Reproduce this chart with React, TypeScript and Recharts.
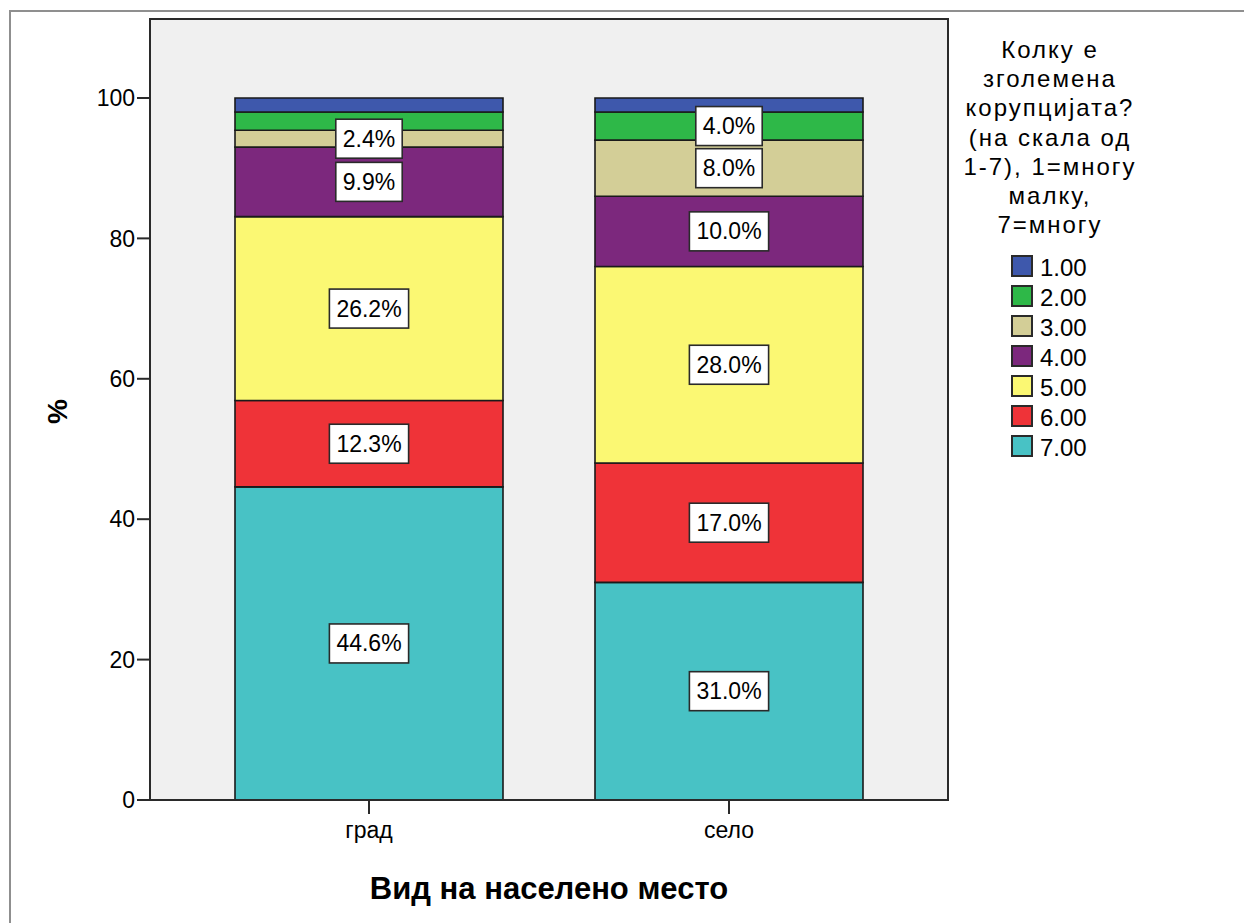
import React from 'react';
import { BarChart, Bar, XAxis, YAxis, CartesianGrid, LabelList, Legend } from 'recharts';

const categories = ['град', 'село'];
const s1 = [2.0, 2.0];
const s2 = [2.6, 4.0];
const s3 = [2.4, 8.0];
const s4 = [9.9, 10.0];
const s5 = [26.2, 28.0];
const s6 = [12.3, 17.0];
const s7 = [44.6, 31.0];
const seriesNames = ['1.00', '2.00', '3.00', '4.00', '5.00', '6.00', '7.00'];
const seriesColors = ['#3E58AC', '#2EB848', '#D3CE97', '#7C287D', '#FBF873', '#EF3338', '#48C2C5'];
const showLabels = [
  [false, false],
  [false, true],
  [true, true],
  [true, true],
  [true, true],
  [true, true],
  [true, true],
];
const yTicks = [0, 20, 40, 60, 80, 100];
const legendTitle = ['Колку е', 'зголемена', 'корупцијата?', '(на скала од', '1-7), 1=многу', 'малку,', '7=многу'];
const xTitle = 'Вид на населено место';
const yTitle = '%';

const seriesValues = [s1, s2, s3, s4, s5, s6, s7];
const keys = ['k1', 'k2', 'k3', 'k4', 'k5', 'k6', 'k7'];

const data = categories.map((c, i) => {
  const row: any = { name: c };
  keys.forEach((k, j) => {
    row[k] = seriesValues[j][i];
  });
  return row;
});

const FONT = "'Liberation Sans', Arial, sans-serif";

const charW = (ch: string) => {
  if (ch === '.') return 0.278;
  if (ch === '%') return 0.889;
  return 0.556;
};

const makeLabel = (show: boolean[]) => (props: any) => {
  const { x, y, width, height, value, index } = props;
  if (!show[index]) return null;
  const text = `${Number(value).toFixed(1)}%`;
  const fs = 23;
  const tw = text.split('').reduce((a, ch) => a + charW(ch) * fs, 0);
  const bw = tw + 14;
  const bh = 39;
  const cx = Number(x) + Number(width) / 2;
  const cy = Number(y) + Number(height) / 2;
  return (
    <g>
      <rect x={cx - bw / 2} y={cy - bh / 2} width={bw} height={bh} fill="#ffffff" stroke="#2a2a2a" strokeWidth={1.6} />
      <text x={cx} y={cy + 8} textAnchor="middle" fontSize={fs} fontFamily={FONT} fill="#000">
        {text}
      </text>
    </g>
  );
};

const LegendContent = () => (
  <div style={{ width: 200, fontFamily: FONT, color: '#000' }}>
    <div style={{ textAlign: 'center', fontSize: 24, lineHeight: '29.2px', letterSpacing: '2px' }}>
      {legendTitle.map((l, i) => (
        <div key={i} style={{ whiteSpace: 'nowrap' }}>{l}</div>
      ))}
    </div>
    <div style={{ marginTop: 12, paddingLeft: 61 }}>
      {seriesNames.map((n, i) => (
        <div key={n} style={{ height: 30, display: 'flex', alignItems: 'center' }}>
          <div
            style={{
              width: 22,
              height: 22,
              boxSizing: 'border-box',
              background: seriesColors[i],
              border: '2px solid #2a2a2a',
              marginRight: 7,
            }}
          />
          <span style={{ fontSize: 24, lineHeight: '30px', paddingTop: 4 }}>{n}</span>
        </div>
      ))}
    </div>
  </div>
);

const YLabel = (props: any) => {
  const vb = props.viewBox || {};
  const cx = vb.x - 33;
  const cy = vb.y + vb.height / 2 + 2;
  return (
    <text
      x={cx}
      y={cy}
      transform={`rotate(-90 ${cx} ${cy})`}
      textAnchor="middle"
      dy="0.36em"
      fontSize={28}
      fontWeight="bold"
      fontFamily={FONT}
      fill="#000"
    >
      {yTitle}
    </text>
  );
};

const XLabel = (props: any) => {
  const vb = props.viewBox || {};
  return (
    <text
      x={vb.x + vb.width / 2}
      y={vb.y + 99}
      textAnchor="middle"
      fontSize={31}
      fontWeight="bold"
      fontFamily={FONT}
      fill="#000"
    >
      {xTitle}
    </text>
  );
};

export default function App() {
  return (
    <div style={{ position: 'relative', width: 1244, height: 915, background: '#fff' }}>
      <div
        style={{
          position: 'absolute',
          left: 1,
          top: 2,
          right: 0,
          bottom: 0,
          borderTop: '2px solid #8f8f8f',
          borderLeft: '2px solid #8f8f8f',
          pointerEvents: 'none',
        }}
      />
      <BarChart
        width={1244}
        height={915}
        data={data}
        margin={{ top: 11, right: 304, bottom: 63, left: 82 }}
        barSize={268}
      >
        <CartesianGrid fill="#F0F0F0" horizontal={false} vertical={false} />
        <XAxis
          dataKey="name"
          height={60}
          padding={{ left: 39, right: 39 }}
          tick={{ fill: '#000', fontSize: 23, fontFamily: FONT }}
          tickSize={14}
          tickMargin={8}
          axisLine={{ stroke: '#2a2a2a', strokeWidth: 2 }}
          tickLine={{ stroke: '#2a2a2a', strokeWidth: 2 }}
          label={<XLabel />}
        />
        <YAxis
          width={60}
          domain={[0, 111.25]}
          ticks={yTicks}
          allowDataOverflow
          tick={{ fill: '#000', fontSize: 23, fontFamily: FONT }}
          tickSize={13}
          tickMargin={2}
          axisLine={{ stroke: '#2a2a2a', strokeWidth: 2 }}
          tickLine={{ stroke: '#2a2a2a', strokeWidth: 2 }}
          label={<YLabel />}
        />
        <Legend
          layout="horizontal"
          verticalAlign="middle"
          align="center"
          content={<LegendContent />}
          wrapperStyle={{ left: 942, top: 27, width: 200, height: 'auto' }}
        />
        {[6, 5, 4, 3, 2, 1, 0].map((j) => (
          <Bar
            key={keys[j]}
            dataKey={keys[j]}
            name={seriesNames[j]}
            stackId="a"
            fill={seriesColors[j]}
            stroke="#1a1a1a"
            strokeWidth={1.6}
            isAnimationActive={false}
          >
            <LabelList dataKey={keys[j]} content={makeLabel(showLabels[j])} />
          </Bar>
        ))}
      </BarChart>
      <div
        style={{
          position: 'absolute',
          left: 141,
          top: 10,
          width: 800,
          height: 783,
          boxSizing: 'border-box',
          border: '2px solid #2a2a2a',
          pointerEvents: 'none',
        }}
      />
    </div>
  );
}
